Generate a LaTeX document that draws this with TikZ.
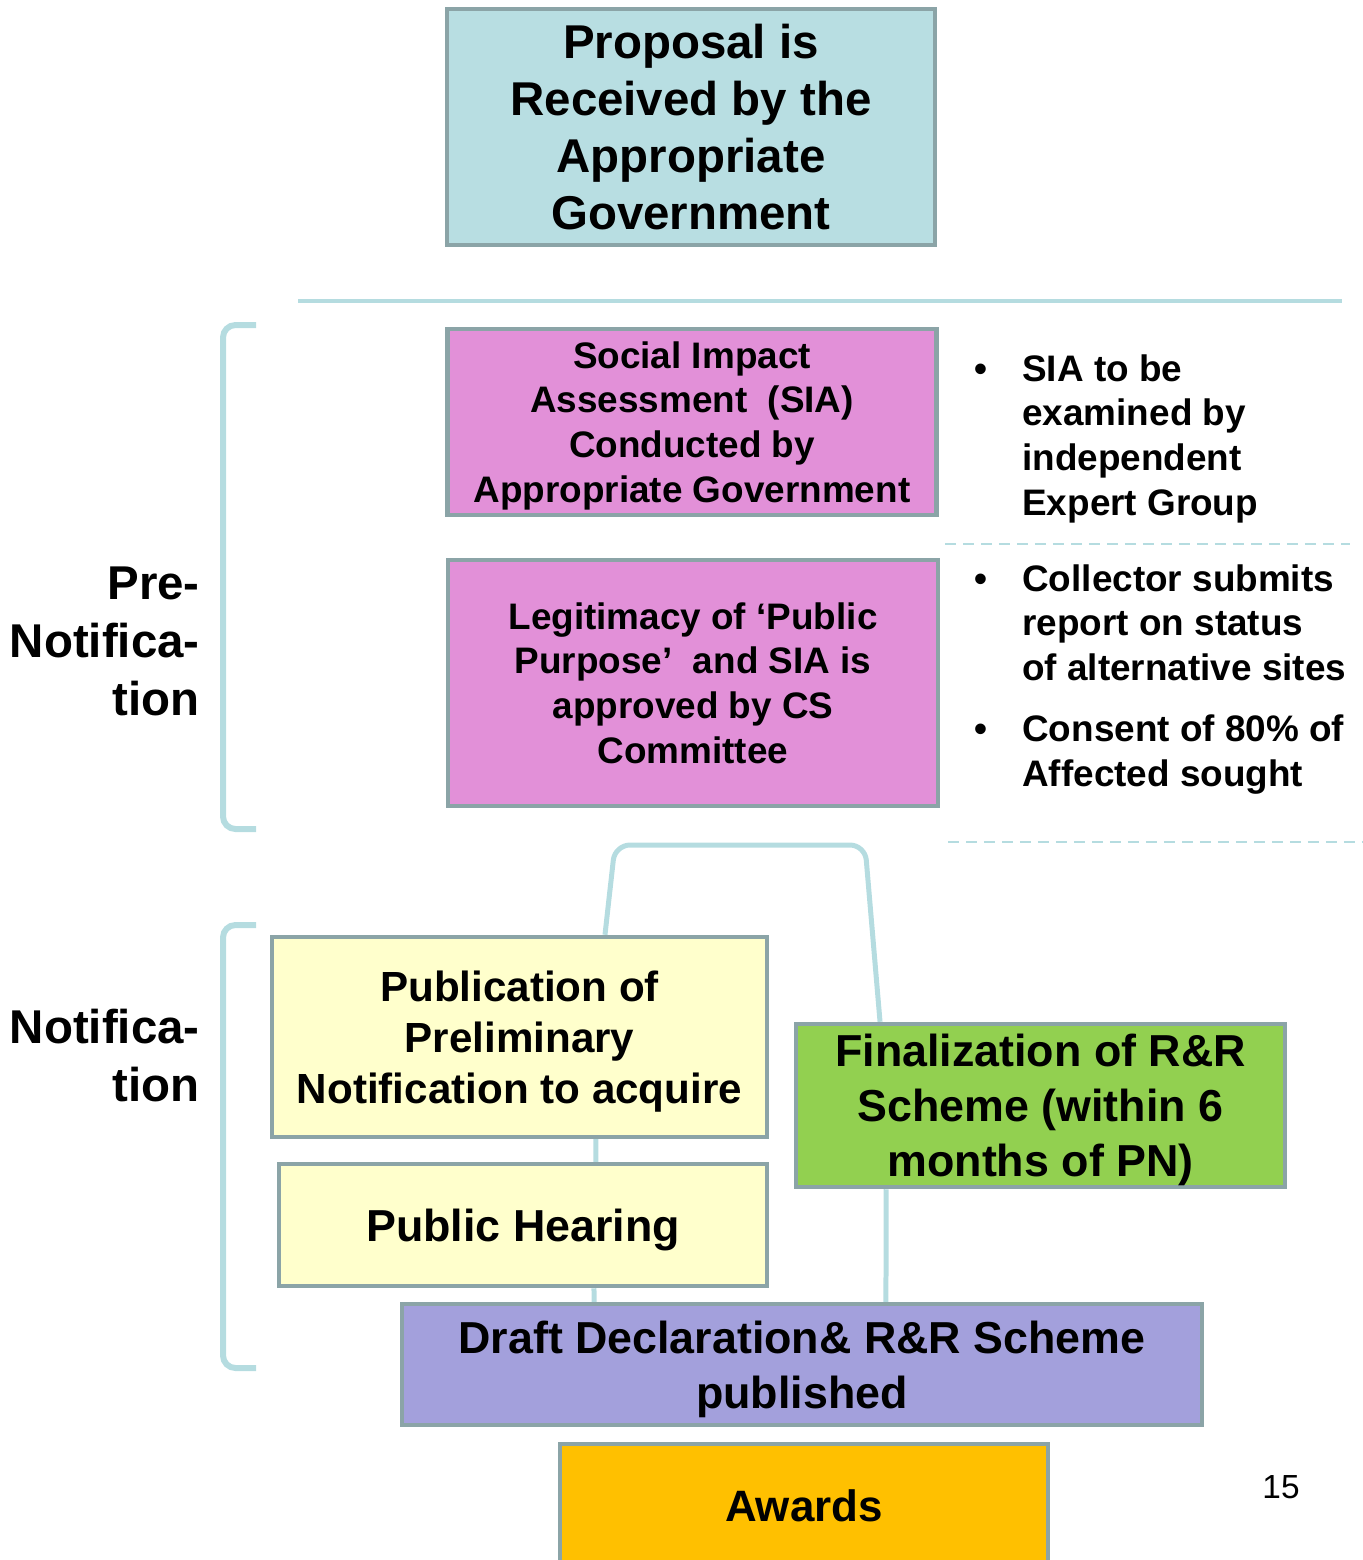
\documentclass[tikz,border=0pt]{standalone}
\usepackage{fontspec}
\setmainfont{Liberation Sans}
\usetikzlibrary{positioning}
\definecolor{boxline}{HTML}{8BA4A7}
\definecolor{linkteal}{HTML}{B5DCE0}
\definecolor{topfill}{HTML}{B8DEE2}
\definecolor{siafill}{HTML}{E290D8}
\definecolor{pubfill}{HTML}{FFFFCC}
\definecolor{finfill}{HTML}{92D050}
\definecolor{draftfill}{HTML}{A3A0DC}
\definecolor{awardfill}{HTML}{FFC000}
\begin{document}
\begin{tikzpicture}[
        x=0.02cm, y=-0.02cm,
        box/.style = {draw=boxline, line width=0.09cm, align=center, inner sep=0pt, text depth=0pt},
        link/.style = {draw=linkteal, line width=0.1cm},
        brace/.style = {draw=linkteal, line width=0.12cm, rounded corners=0.25cm},
        rule/.style = {draw=linkteal, line width=0.09cm},
        dashrule/.style = {draw=linkteal, line width=0.05cm, dash pattern=on 0.22cm off 0.14cm},
        note/.style = {anchor=west, align=left, inner sep=0pt, text depth=0pt, font=\fontsize{21}{25.5}\selectfont\bfseries},
        side/.style = {anchor=east, align=right, inner sep=0pt, font=\fontsize{27}{33}\selectfont\bfseries}
    ]
        \useasboundingbox (0,0) rectangle (1363,1560);
        \clip (0,0) rectangle (1363,1560);
        % boxes
        \node[box, text depth=, fill=topfill, minimum width=9.76cm, minimum height=4.72cm,
            font=\fontsize{27}{32.3}\selectfont\bfseries] (proposal) at (691,127)
            {Proposal is\\Received by the\\Appropriate\\Government};
        \node[box, fill=siafill, minimum width=9.78cm, minimum height=3.72cm,
            font=\fontsize{21}{25.5}\selectfont\bfseries] (sia) at (692,422)
            {Social Impact\\Assessment~ (SIA)\\Conducted by\\Appropriate Government};
        \node[box, fill=siafill, minimum width=9.8cm, minimum height=4.92cm,
            font=\fontsize{21}{25.5}\selectfont\bfseries] (legit) at (693,683)
            {Legitimacy of ‘Public\\Purpose’~ and SIA is\\approved by CS\\Committee};
        \node[box, fill=pubfill, minimum width=9.9cm, minimum height=4cm,
            font=\fontsize{24}{28.9}\selectfont\bfseries] (pub) at (519.5,1037)
            {Publication of\\Preliminary\\Notification to acquire};
        \node[box, fill=pubfill, minimum width=9.76cm, minimum height=2.44cm,
            font=\fontsize{25.5}{31}\selectfont\bfseries] (hearing) at (523,1225)
            {Public Hearing};
        \node[box, fill=finfill, minimum width=9.78cm, minimum height=3.26cm,
            font=\fontsize{25.5}{31.2}\selectfont\bfseries] (final) at (1040.5,1105.5)
            {Finalization of R\&R\\Scheme (within 6\\months of PN)};
        \node[box, fill=draftfill, minimum width=16cm, minimum height=2.42cm,
            font=\fontsize{25.5}{31.2}\selectfont\bfseries] (draft) at (802,1364.5)
            {Draft Declaration\& R\&R Scheme\\published};
        \node[box, fill=awardfill, minimum width=9.76cm, minimum height=2.48cm,
            font=\fontsize{25}{30}\selectfont\bfseries] (awards) at (804,1506)
            {Awards};

        % connectors
        \coordinate (bendL) at (615,845);
        \coordinate (bendR) at (865,845);
        \draw[link, rounded corners=0.3cm] ([xshift=1.71cm]pub.north) -- (bendL) -- (bendR) -- ([xshift=-3.21cm]final.north);
        \draw[link] ([xshift=1.53cm]pub.south) -- ([xshift=1.46cm]hearing.north);
        \draw[link] ([xshift=1.42cm]hearing.south) -- ([xshift=-4.16cm]draft.north);
        \draw[link] ([xshift=-3.09cm]final.south) -- ([xshift=1.68cm]draft.north);

        % rules and brackets
        \draw[rule] (298,301) -- (1342,301);
        \draw[dashrule] (945,544) -- (1350,544);
        \draw[dashrule] (948,842) -- (1363,842);
        \draw[brace] (256,325) -- (223,325) -- (223,829) -- (256,829);
        \draw[brace] (256,925) -- (223,925) -- (223,1368) -- (256,1368);

        % notes
        \node[note] (note1) at (1022,435)
            {\llap{\textbullet\hspace{0.7cm}}SIA to be\\examined by\\independent\\Expert Group};
        \node[note] (note2) at (1022,622.5)
            {\llap{\textbullet\hspace{0.7cm}}Collector submits\\report on status\\of alternative sites};
        \node[note] (note3) at (1022,750.5)
            {\llap{\textbullet\hspace{0.7cm}}Consent of 80\% of\\Affected sought};
        \node[side] (prenote) at (200,641) {Pre-\\Notifica-\\tion};
        \node[side] (notif) at (200,1056) {Notifica-\\tion};
        \node[font=\fontsize{19}{23}\selectfont, inner sep=0pt] (page) at (1281,1487) {15};
\end{tikzpicture}
\end{document}
